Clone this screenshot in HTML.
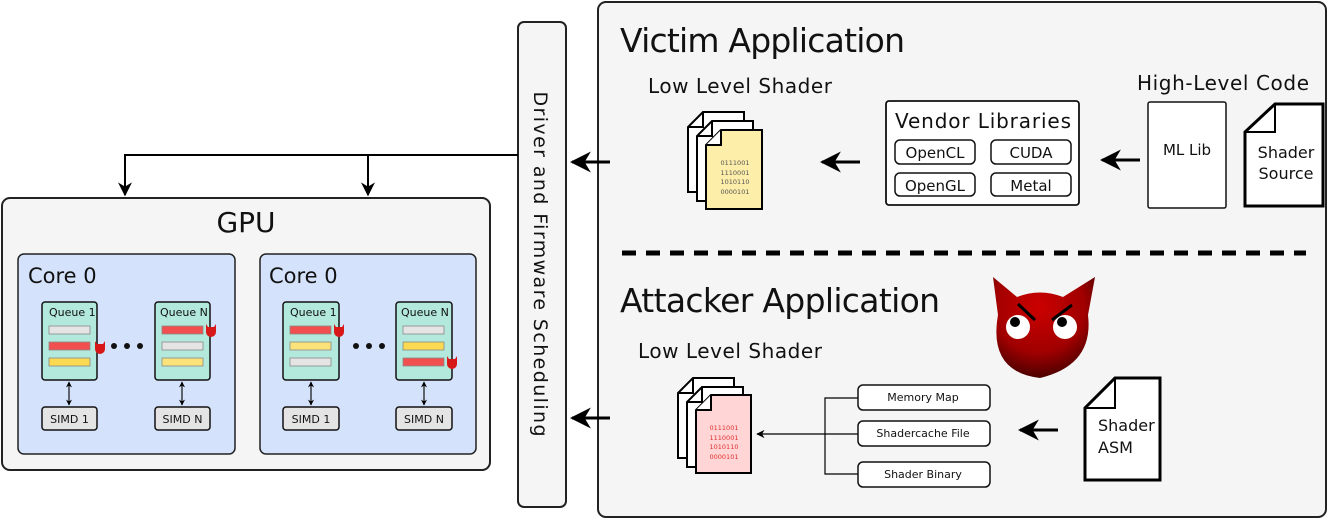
<!DOCTYPE html>
<html><head><meta charset="utf-8"><style>
html,body{margin:0;padding:0;background:#fff;}
svg{display:block;}
text{font-family:"DejaVu Sans","Liberation Sans",sans-serif;fill:#111;}
</style></head><body>
<svg width="1330" height="520" viewBox="0 0 1330 520" xmlns="http://www.w3.org/2000/svg">
<defs>
<marker id="ah" viewBox="0 0 10 10" refX="9" refY="5" markerWidth="7" markerHeight="7" orient="auto"><path d="M0,0 L10,5 L0,10 L3,5 z" fill="#000"/></marker>
<marker id="ahs" viewBox="0 0 10 10" refX="9" refY="5" markerWidth="5" markerHeight="5" orient="auto-start-reverse"><path d="M0,0 L10,5 L0,10 L3,5 z" fill="#000"/></marker>
<radialGradient id="dv" cx="0.45" cy="0.3" r="0.75"><stop offset="0" stop-color="#cc0000"/><stop offset="0.6" stop-color="#a00000"/><stop offset="1" stop-color="#3a0000"/></radialGradient>
<linearGradient id="dvh" x1="0" y1="0" x2="0" y2="1"><stop offset="0" stop-color="#c40000"/><stop offset="1" stop-color="#8a0000"/></linearGradient>
</defs>

<!-- GPU -->
<rect x="2" y="198" width="488" height="272" rx="8" fill="#f5f5f5" stroke="#222" stroke-width="2"/>
<text x="246" y="232" font-size="28" text-anchor="middle">GPU</text>

<g id="core">
<rect x="18" y="254" width="217" height="200" rx="6" fill="#d4e3fb" stroke="#222" stroke-width="1.5"/>
<text x="28" y="283" font-size="21">Core 0</text>
</g>
<rect x="260" y="254" width="216" height="200" rx="6" fill="#d4e3fb" stroke="#222" stroke-width="1.5"/>
<text x="269" y="283" font-size="21">Core 0</text>

<!-- queues -->
<g font-size="11">
<rect x="42" y="302" width="55" height="78" rx="3" fill="#b3e8dc" stroke="#111" stroke-width="1.5"/>
<text x="49" y="316" font-size="11">Queue 1</text>
<rect x="49" y="326" width="41" height="8" fill="#e4e4e4" stroke="#888" stroke-width="0.8"/>
<rect x="49" y="342" width="41" height="8" fill="#f25050" stroke="#888" stroke-width="0.8"/>
<rect x="49" y="358" width="41" height="8" fill="#fbd950" stroke="#888" stroke-width="0.8"/>

<rect x="155" y="302" width="55" height="78" rx="3" fill="#b3e8dc" stroke="#111" stroke-width="1.5"/>
<text x="160" y="316" font-size="11">Queue N</text>
<rect x="162" y="326" width="41" height="8" fill="#f25050" stroke="#888" stroke-width="0.8"/>
<rect x="162" y="342" width="41" height="8" fill="#e4e4e4" stroke="#888" stroke-width="0.8"/>
<rect x="162" y="358" width="41" height="8" fill="#fbe27a" stroke="#888" stroke-width="0.8"/>

<rect x="283" y="302" width="56" height="78" rx="3" fill="#b3e8dc" stroke="#111" stroke-width="1.5"/>
<text x="290" y="316" font-size="11">Queue 1</text>
<rect x="290" y="326" width="41" height="8" fill="#f25050" stroke="#888" stroke-width="0.8"/>
<rect x="290" y="342" width="41" height="8" fill="#fbe27a" stroke="#888" stroke-width="0.8"/>
<rect x="290" y="358" width="41" height="8" fill="#e4e4e4" stroke="#888" stroke-width="0.8"/>

<rect x="396" y="302" width="56" height="78" rx="3" fill="#b3e8dc" stroke="#111" stroke-width="1.5"/>
<text x="401" y="316" font-size="11">Queue N</text>
<rect x="403" y="326" width="41" height="8" fill="#e4e4e4" stroke="#888" stroke-width="0.8"/>
<rect x="403" y="342" width="41" height="8" fill="#fbd950" stroke="#888" stroke-width="0.8"/>
<rect x="403" y="358" width="41" height="8" fill="#f25050" stroke="#888" stroke-width="0.8"/>
</g>
<!-- small devils -->
<g fill="#d81818">
<path d="M95,341 l2,3 h6 l2,-3 v8 a5,5 0 0 1 -10,0 z"/>
<path d="M206,324 l2,3 h6 l2,-3 v8 a5,5 0 0 1 -10,0 z"/>
<path d="M334,324 l2,3 h6 l2,-3 v8 a5,5 0 0 1 -10,0 z"/>
<path d="M447,356 l2,3 h6 l2,-3 v8 a5,5 0 0 1 -10,0 z"/>
</g>
<g fill="#111">
<circle cx="114" cy="346" r="3"/><circle cx="127" cy="346" r="3"/><circle cx="140" cy="346" r="3"/>
<circle cx="356" cy="346" r="3"/><circle cx="369" cy="346" r="3"/><circle cx="382" cy="346" r="3"/>
</g>
<!-- simd -->
<g stroke="#111" stroke-width="1.2" fill="none" marker-start="url(#ahs)" marker-end="url(#ahs)">
<line x1="69" y1="382" x2="69" y2="405"/><line x1="182" y1="382" x2="182" y2="405"/>
<line x1="311" y1="382" x2="311" y2="405"/><line x1="424" y1="382" x2="424" y2="405"/>
</g>
<g font-size="11" text-anchor="middle">
<rect x="42" y="407" width="55" height="23" rx="3" fill="#e4e4e4" stroke="#111" stroke-width="1.5"/><text x="69.5" y="423">SIMD 1</text>
<rect x="155" y="407" width="55" height="23" rx="3" fill="#e4e4e4" stroke="#111" stroke-width="1.5"/><text x="182.5" y="423">SIMD N</text>
<rect x="283" y="407" width="56" height="23" rx="3" fill="#e4e4e4" stroke="#111" stroke-width="1.5"/><text x="311" y="423">SIMD 1</text>
<rect x="396" y="407" width="56" height="23" rx="3" fill="#e4e4e4" stroke="#111" stroke-width="1.5"/><text x="424" y="423">SIMD N</text>
</g>

<!-- driver -->
<rect x="518" y="22" width="48" height="485" rx="6" fill="#f5f5f5" stroke="#222" stroke-width="2"/>
<text transform="translate(534,264) rotate(90)" font-size="19" text-anchor="middle" textLength="345">Driver and Firmware Scheduling</text>
<g stroke="#000" stroke-width="2" fill="none">
<polyline points="518,155 125,155 125,195" marker-end="url(#ah)"/>
<line x1="368" y1="155" x2="368" y2="195" marker-end="url(#ah)"/>
</g>

<!-- apps box -->
<rect x="598" y="2" width="728" height="515" rx="8" fill="#f5f5f5" stroke="#222" stroke-width="2"/>
<line x1="622" y1="253" x2="1306" y2="253" stroke="#000" stroke-width="5" stroke-dasharray="14,10"/>
<text x="620" y="52" font-size="33" textLength="285">Victim Application</text>
<text x="620" y="312" font-size="33" textLength="320">Attacker Application</text>
<text x="648" y="93" font-size="20" textLength="184">Low Level Shader</text>
<text x="638" y="358" font-size="20" textLength="184">Low Level Shader</text>
<text x="1137" y="90" font-size="20" textLength="172">High-Level Code</text>

<!-- big arrows -->
<g stroke="#000" stroke-width="3" fill="none" marker-end="url(#ah)">
<line x1="610" y1="162" x2="572" y2="162"/>
<line x1="860" y1="162" x2="822" y2="162"/>
<line x1="1140" y1="160" x2="1102" y2="160"/>
<line x1="610" y1="418" x2="572" y2="418"/>
<line x1="1058" y1="430" x2="1020" y2="430"/>
</g>

<!-- victim docs -->
<g stroke="#000" stroke-width="2">
<path d="M703,112 H744 V192 H688 V127 Z" fill="#fff"/><path d="M688,127 H703 V112" fill="none"/>
<path d="M712,121 H753 V201 H697 V136 Z" fill="#fff"/><path d="M697,136 H712 V121" fill="none"/>
<path d="M721,130 H762 V209 H706 V145 Z" fill="#fdeeaa"/><path d="M706,145 H721 V130" fill="#fff"/>
</g>
<g font-size="6.5" fill="#555" text-anchor="middle" font-family="Liberation Mono,monospace">
<text x="735" y="165" style="fill:#555">0111001</text><text x="735" y="175" style="fill:#555">1110001</text>
<text x="735" y="184" style="fill:#555">1010110</text><text x="735" y="194" style="fill:#555">0000101</text>
</g>

<!-- vendor -->
<rect x="886" y="101" width="193" height="104" rx="3" fill="#fff" stroke="#111" stroke-width="1.8"/>
<text x="895" y="128" font-size="20" textLength="176">Vendor Libraries</text>
<g font-size="15" text-anchor="middle" stroke-width="1.5">
<rect x="895" y="140" width="80" height="24" rx="5" fill="#fff" stroke="#111"/><text x="935" y="158">OpenCL</text>
<rect x="991" y="140" width="80" height="24" rx="5" fill="#fff" stroke="#111"/><text x="1031" y="158">CUDA</text>
<rect x="895" y="173" width="80" height="23" rx="5" fill="#fff" stroke="#111"/><text x="935" y="191">OpenGL</text>
<rect x="991" y="173" width="80" height="23" rx="5" fill="#fff" stroke="#111"/><text x="1031" y="191">Metal</text>
</g>
<rect x="1148" y="102" width="78" height="106" rx="2" fill="#fff" stroke="#111" stroke-width="1.5"/>
<text x="1187" y="155" font-size="15" text-anchor="middle">ML Lib</text>
<path d="M1275,104 H1323 V206 H1245 V132 Z" fill="#fff" stroke="#000" stroke-width="3"/>
<path d="M1245,132 H1275 V104" fill="none" stroke="#000" stroke-width="2"/>
<text x="1286" y="158" font-size="16" text-anchor="middle">Shader</text>
<text x="1286" y="179" font-size="16" text-anchor="middle">Source</text>

<!-- devil -->
<path d="M993,277 L1017,297 Q1040,288 1063,297 L1095,277 L1088,315 Q1094,365 1040,378 Q988,372 998,315 Z" fill="url(#dv)"/>
<ellipse cx="1018" cy="327" rx="12" ry="12" fill="#fff"/><ellipse cx="1065" cy="327" rx="12" ry="12" fill="#fff"/>
<circle cx="1015" cy="322" r="5" fill="#000"/><circle cx="1062" cy="322" r="5" fill="#000"/>
<path d="M1018,304 L1035,320 M1072,305 L1052,320" stroke="#000" stroke-width="3"/>

<!-- attacker docs -->
<g stroke="#000" stroke-width="2">
<path d="M693,378 H734 V458 H678 V393 Z" fill="#fff"/><path d="M678,393 H693 V378" fill="none"/>
<path d="M702,387 H743 V467 H687 V402 Z" fill="#fff"/><path d="M687,402 H702 V387" fill="none"/>
<path d="M711,395 H751 V473 H696 V410 Z" fill="#ffd5d5"/><path d="M696,410 H711 V395" fill="#fff"/>
</g>
<g font-size="6.5" text-anchor="middle" font-family="Liberation Mono,monospace">
<text x="724" y="430" style="fill:#e03030">0111001</text><text x="724" y="440" style="fill:#e03030">1110001</text>
<text x="724" y="449" style="fill:#e03030">1010110</text><text x="724" y="459" style="fill:#e03030">0000101</text>
</g>
<g stroke="#000" stroke-width="1.2" fill="none">
<polyline points="858,398 825,398 825,474 858,474"/>
<line x1="858" y1="434" x2="757" y2="434" marker-end="url(#ah)"/>
</g>
<g font-size="11" text-anchor="middle">
<rect x="858" y="385" width="132" height="25" rx="5" fill="#fff" stroke="#111" stroke-width="1.5"/><text x="923" y="401">Memory Map</text>
<rect x="858" y="421" width="132" height="25" rx="5" fill="#fff" stroke="#111" stroke-width="1.5"/><text x="923" y="437">Shadercache File</text>
<rect x="858" y="462" width="132" height="25" rx="5" fill="#fff" stroke="#111" stroke-width="1.5"/><text x="923" y="478">Shader Binary</text>
</g>
<path d="M1115,378 H1160 V480 H1085 V408 Z" fill="#fff" stroke="#000" stroke-width="3"/>
<path d="M1085,408 H1115 V378" fill="none" stroke="#000" stroke-width="2"/>
<text x="1098" y="431" font-size="16">Shader</text>
<text x="1098" y="453" font-size="16">ASM</text>
</svg>
</body></html>
